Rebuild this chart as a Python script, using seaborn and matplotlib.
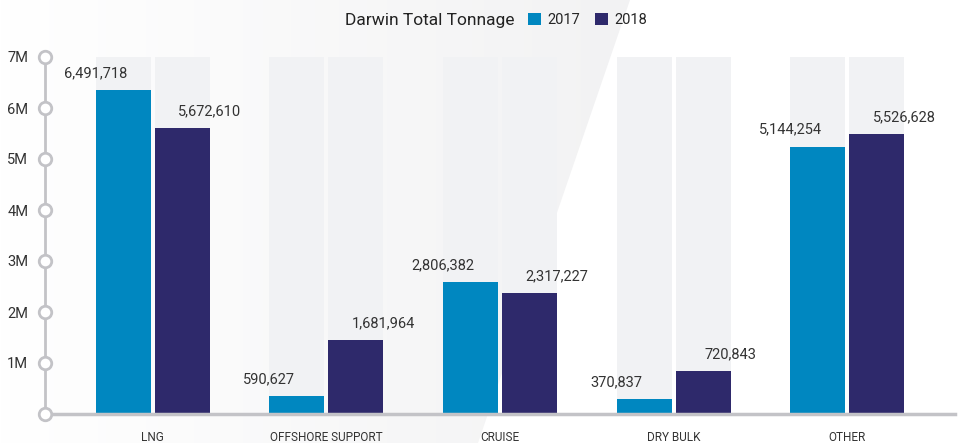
import numpy as np
import pandas as pd
import matplotlib
matplotlib.use("Agg")
import matplotlib.pyplot as plt
from matplotlib.patches import Polygon, Patch
import seaborn as sns

# ---- data ----
categories = ["LNG", "OFFSHORE SUPPORT", "CRUISE", "DRY BULK", "OTHER"]
years = ["2017", "2018"]
# bar heights as drawn in the picture (millions of tonnes)
heights_2017 = [6.35e6, 0.35e6, 2.59e6, 0.29e6, 5.24e6]
heights_2018 = [5.61e6, 1.45e6, 2.37e6, 0.84e6, 5.49e6]
# value labels as printed in the picture
labels_2017 = ["6,491,718", "590,627", "2,806,382", "370,837", "5,144,254"]
labels_2018 = ["5,672,610", "1,681,964", "2,317,227", "720,843", "5,526,628"]
y_ticks = [0, 1e6, 2e6, 3e6, 4e6, 5e6, 6e6, 7e6]
y_tick_labels = ["", "1M", "2M", "3M", "4M", "5M", "6M", "7M"]
title = "Darwin Total Tonnage"

c2017 = "#0087c0"
c2018 = "#2e296b"
bg_bar = "#f1f2f4"
axis_gray = "#c3c3c7"
text_col = "#333333"

df = pd.DataFrame({
    "category": categories * 2,
    "year": ["2017"] * len(categories) + ["2018"] * len(categories),
    "value": heights_2017 + heights_2018,
})
bg = df.copy()
bg["value"] = y_ticks[-1]
all_labels = labels_2017 + labels_2018

sns.set_theme(style="white")
plt.rcParams["font.family"] = ["Roboto", "DejaVu Sans"]

W, H = 962, 443
fig = plt.figure(figsize=(W / 100, H / 100), dpi=100)

# faint diagonal background shape with gradient
bgax = fig.add_axes([0, 0, 1, 1], zorder=-5)
bgax.set_xlim(0, W)
bgax.set_ylim(H, 0)
bgax.axis("off")
grad = np.linspace(0, 1, 256)[None, :]
cmap = matplotlib.colors.LinearSegmentedColormap.from_list("g", ["#ffffff", "#f2f2f3"])
im = bgax.imshow(np.repeat(grad, 2, axis=0), extent=[0, 630, H, 0], cmap=cmap, aspect="auto")
poly = Polygon([(0, 0), (630, 0), (478, H), (0, H)], closed=True, transform=bgax.transData,
               facecolor="none", edgecolor="none")
bgax.add_patch(poly)
im.set_clip_path(poly)

left, right = 45 / W, 955 / W
bottom, top = 1 - 414 / H, 1 - 57 / H
ax = fig.add_axes([left, bottom, right - left, top - bottom])
ax.patch.set_alpha(0)

sns.barplot(data=bg, x="category", y="value", hue="year", order=categories, hue_order=years,
            palette=[bg_bar, bg_bar], width=0.68, gap=0.07, legend=False, ax=ax,
            saturation=1, linewidth=0, zorder=1)
n_bg = len(ax.patches)
sns.barplot(data=df, x="category", y="value", hue="year", order=categories, hue_order=years,
            palette=[c2017, c2018], width=0.68, gap=0.07, legend=False, ax=ax,
            saturation=1, linewidth=0, zorder=2)

bars = ax.patches[n_bg:]
for i, b in enumerate(bars):
    h = b.get_height()
    if i < len(categories):
        xpos = b.get_x()
    else:
        xpos = b.get_x() + b.get_width()
    ax.annotate(all_labels[i], (xpos, h), xytext=(0, 12.3), textcoords="offset points",
                ha="center", va="center", fontsize=10.5, color=text_col, zorder=5,
                annotation_clip=False)

ax.set_xlim(-0.62, 4.62)
ax.set_ylim(0, y_ticks[-1])
ax.set_yticks(y_ticks)
ax.set_yticklabels(y_tick_labels, fontsize=10.5, color=text_col)
ax.set_xlabel("")
ax.set_ylabel("")
ax.tick_params(axis="y", length=0, pad=12)
ax.tick_params(axis="x", length=0, pad=12)
for lab in ax.get_xticklabels():
    lab.set_fontsize(8.5)
    lab.set_color(text_col)
    lab.set_family(["Liberation Sans Narrow", "Roboto", "DejaVu Sans"])
for s in ["top", "right"]:
    ax.spines[s].set_visible(False)
ax.spines["left"].set_color(axis_gray)
ax.spines["left"].set_linewidth(2)
ax.spines["bottom"].set_color(axis_gray)
ax.spines["bottom"].set_linewidth(2.5)
ax.spines["left"].set_zorder(6)
ax.spines["bottom"].set_zorder(6)
ax.plot([-0.62] * len(y_ticks), y_ticks, "o", ms=9, mfc="white", mec=axis_gray, mew=2,
        clip_on=False, zorder=7)

# title + legend
fig.text(515 / W, 1 - 20 / H, title, ha="right", va="center", fontsize=12.5, color="#222222",
         family=["Roboto", "DejaVu Sans"])
handles = [Patch(facecolor=c2017, edgecolor="none"), Patch(facecolor=c2018, edgecolor="none")]
fig.legend(handles, years, loc="center left", bbox_to_anchor=(528 / W, 1 - 20 / H), ncol=2,
           frameon=False, fontsize=10.5, handlelength=0.9, handleheight=0.9, handletextpad=0.45,
           columnspacing=1.0, borderaxespad=0, borderpad=0)

fig.savefig("out.png", dpi=100)
